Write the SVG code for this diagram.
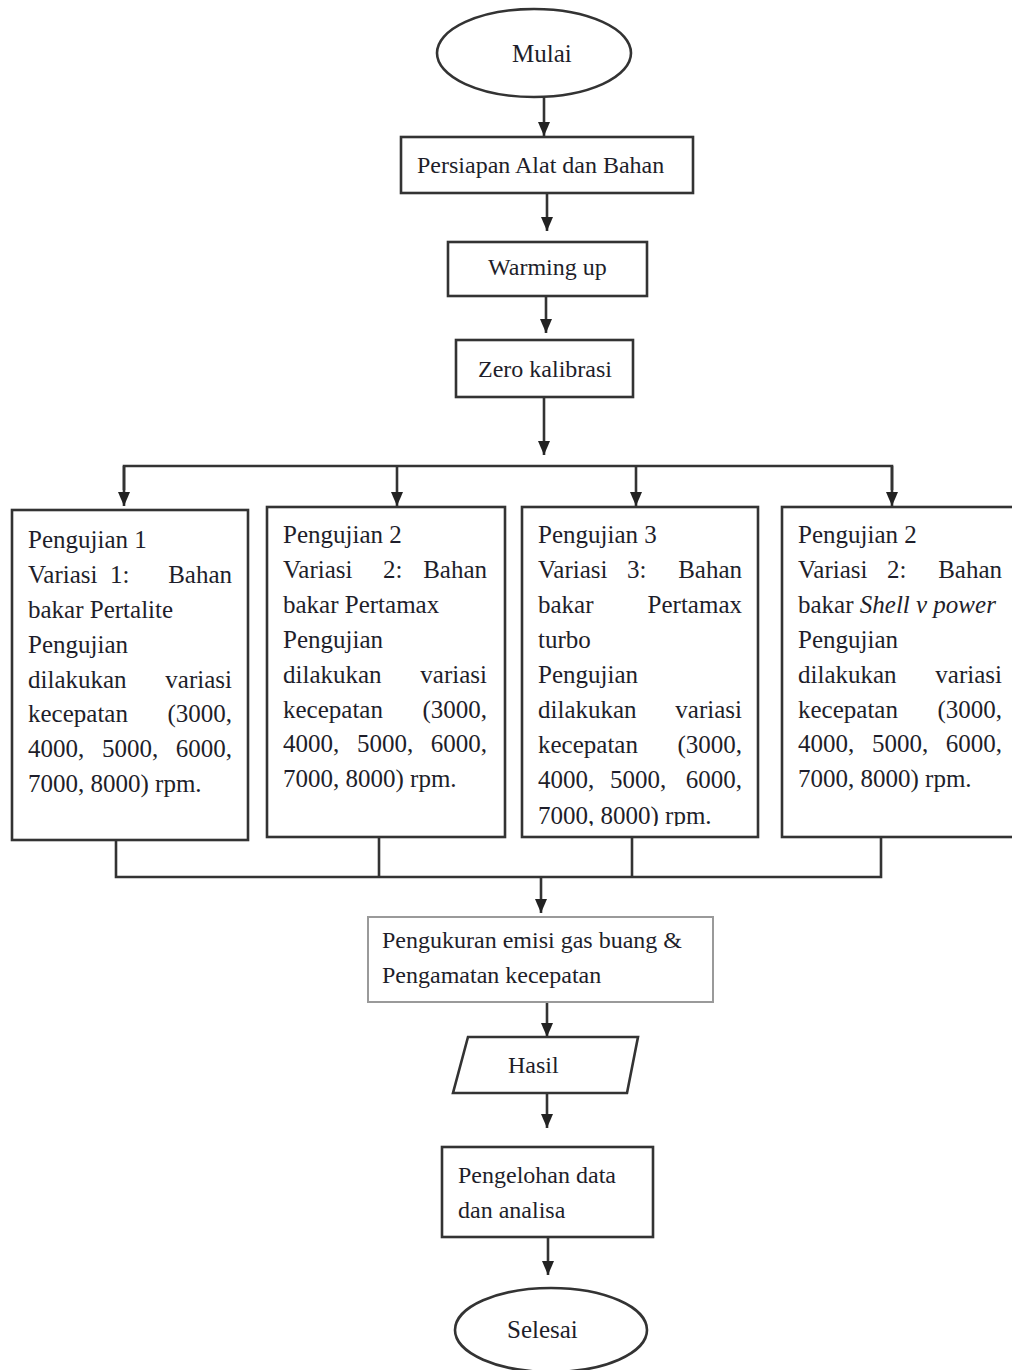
<svg xmlns="http://www.w3.org/2000/svg" width="1012" height="1370" viewBox="0 0 1012 1370">
<style>
.sh{fill:#fff;stroke:#333;stroke-width:2.6}
.lt{fill:#fff;stroke:#9a9a9a;stroke-width:2}
.ln{fill:none;stroke:#333;stroke-width:2.6}
text{font-family:"Liberation Serif","Times New Roman",serif;fill:#1e1e2a}
.t{font-size:24px}
.b{font-size:25px}
.e{text-anchor:end}
</style>
<defs>
<marker id="ah" markerUnits="userSpaceOnUse" markerWidth="14" markerHeight="14" viewBox="0 0 14 14" refX="14" refY="7" orient="auto">
<path d="M0,1 L14,7 L0,13 Z" fill="#222"/>
</marker>
<clipPath id="c3"><rect x="522" y="507" width="236" height="319"/></clipPath>
</defs>
<rect width="1012" height="1370" fill="#fff"/>

<g id="connectors">
<line class="ln" x1="544" y1="98" x2="544" y2="136" marker-end="url(#ah)"/>
<line class="ln" x1="547" y1="193" x2="547" y2="231" marker-end="url(#ah)"/>
<line class="ln" x1="546" y1="296" x2="546" y2="333" marker-end="url(#ah)"/>
<line class="ln" x1="544" y1="397" x2="544" y2="455" marker-end="url(#ah)"/>
<polyline class="ln" points="124,490 124,466 892,466 892,490"/>
<line class="ln" x1="124" y1="466" x2="124" y2="506" marker-end="url(#ah)"/>
<line class="ln" x1="397" y1="466" x2="397" y2="506" marker-end="url(#ah)"/>
<line class="ln" x1="636" y1="466" x2="636" y2="506" marker-end="url(#ah)"/>
<line class="ln" x1="892" y1="466" x2="892" y2="506" marker-end="url(#ah)"/>
<polyline class="ln" points="116,840 116,877 881,877 881,837"/>
<line class="ln" x1="379" y1="837" x2="379" y2="877"/>
<line class="ln" x1="632" y1="837" x2="632" y2="877"/>
<line class="ln" x1="541" y1="877" x2="541" y2="913" marker-end="url(#ah)"/>
<line class="ln" x1="547" y1="1002" x2="547" y2="1037" marker-end="url(#ah)"/>
<line class="ln" x1="547" y1="1093" x2="547" y2="1128" marker-end="url(#ah)"/>
<line class="ln" x1="548" y1="1237" x2="548" y2="1275" marker-end="url(#ah)"/>
</g>

<g id="mulai">
<ellipse class="sh" cx="534" cy="53" rx="97" ry="44"/>
<text class="t" x="512" y="62" style="font-size:25px">Mulai</text>
</g>

<g id="persiapan">
<rect class="sh" x="401" y="137" width="292" height="56"/>
<text class="t" x="417" y="173">Persiapan Alat dan Bahan</text>
</g>

<g id="warming">
<rect class="sh" x="448" y="242" width="199" height="54"/>
<text class="t" x="488" y="275">Warming up</text>
</g>

<g id="zero">
<rect class="sh" x="456" y="340" width="177" height="57"/>
<text class="t" x="478" y="377">Zero kalibrasi</text>
</g>

<g id="uji1">
<rect class="sh" x="12" y="510" width="236" height="330"/>
<text class="b" x="28" y="548">Pengujian 1</text>
<text class="b" x="28" y="583">Variasi</text><text class="b" x="110" y="583">1:</text><text class="b e" x="232" y="583">Bahan</text>
<text class="b" x="28" y="618">bakar Pertalite</text>
<text class="b" x="28" y="653">Pengujian</text>
<text class="b" x="28" y="688">dilakukan</text><text class="b e" x="232" y="688">variasi</text>
<text class="b" x="28" y="722">kecepatan</text><text class="b e" x="232" y="722">(3000,</text>
<text class="b" x="28" y="757">4000,</text><text class="b" x="102" y="757">5000,</text><text class="b e" x="232" y="757">6000,</text>
<text class="b" x="28" y="792">7000, 8000) rpm.</text>
</g>

<g id="uji2">
<rect class="sh" x="267" y="507" width="238" height="330"/>
<text class="b" x="283" y="543">Pengujian 2</text>
<text class="b" x="283" y="578">Variasi</text><text class="b" x="383" y="578">2:</text><text class="b e" x="487" y="578">Bahan</text>
<text class="b" x="283" y="613">bakar Pertamax</text>
<text class="b" x="283" y="648">Pengujian</text>
<text class="b" x="283" y="683">dilakukan</text><text class="b e" x="487" y="683">variasi</text>
<text class="b" x="283" y="718">kecepatan</text><text class="b e" x="487" y="718">(3000,</text>
<text class="b" x="283" y="752">4000,</text><text class="b" x="357" y="752">5000,</text><text class="b e" x="487" y="752">6000,</text>
<text class="b" x="283" y="787">7000, 8000) rpm.</text>
</g>

<g id="uji3">
<rect class="sh" x="522" y="507" width="236" height="330"/>
<g clip-path="url(#c3)">
<text class="b" x="538" y="543">Pengujian 3</text>
<text class="b" x="538" y="578">Variasi</text><text class="b" x="627" y="578">3:</text><text class="b e" x="742" y="578">Bahan</text>
<text class="b" x="538" y="613">bakar</text><text class="b e" x="742" y="613">Pertamax</text>
<text class="b" x="538" y="648">turbo</text>
<text class="b" x="538" y="683">Pengujian</text>
<text class="b" x="538" y="718">dilakukan</text><text class="b e" x="742" y="718">variasi</text>
<text class="b" x="538" y="753">kecepatan</text><text class="b e" x="742" y="753">(3000,</text>
<text class="b" x="538" y="788">4000,</text><text class="b" x="610" y="788">5000,</text><text class="b e" x="742" y="788">6000,</text>
<text class="b" x="538" y="824">7000, 8000) rpm.</text>
</g>
</g>

<g id="uji4">
<rect class="sh" x="782" y="507" width="232" height="330"/>
<text class="b" x="798" y="543">Pengujian 2</text>
<text class="b" x="798" y="578">Variasi</text><text class="b" x="887" y="578">2:</text><text class="b e" x="1002" y="578">Bahan</text>
<text class="b" x="798" y="613">bakar <tspan font-style="italic">Shell v power</tspan></text>
<text class="b" x="798" y="648">Pengujian</text>
<text class="b" x="798" y="683">dilakukan</text><text class="b e" x="1002" y="683">variasi</text>
<text class="b" x="798" y="718">kecepatan</text><text class="b e" x="1002" y="718">(3000,</text>
<text class="b" x="798" y="752">4000,</text><text class="b" x="872" y="752">5000,</text><text class="b e" x="1002" y="752">6000,</text>
<text class="b" x="798" y="787">7000, 8000) rpm.</text>
</g>

<g id="pengukuran">
<rect class="lt" x="368" y="917" width="345" height="85"/>
<text class="t" x="382" y="948">Pengukuran emisi gas buang &amp;</text>
<text class="t" x="382" y="983">Pengamatan kecepatan</text>
</g>

<g id="hasil">
<polygon class="sh" points="468,1037 638,1037 627,1093 453,1093"/>
<text class="t" x="508" y="1073">Hasil</text>
</g>

<g id="pengelohan">
<rect class="sh" x="442" y="1147" width="211" height="90"/>
<text class="t" x="458" y="1183">Pengelohan data</text>
<text class="t" x="458" y="1218">dan analisa</text>
</g>

<g id="selesai">
<ellipse class="sh" cx="551" cy="1330" rx="96" ry="42"/>
<text class="t" x="507" y="1338" style="font-size:25px">Selesai</text>
</g>
</svg>
